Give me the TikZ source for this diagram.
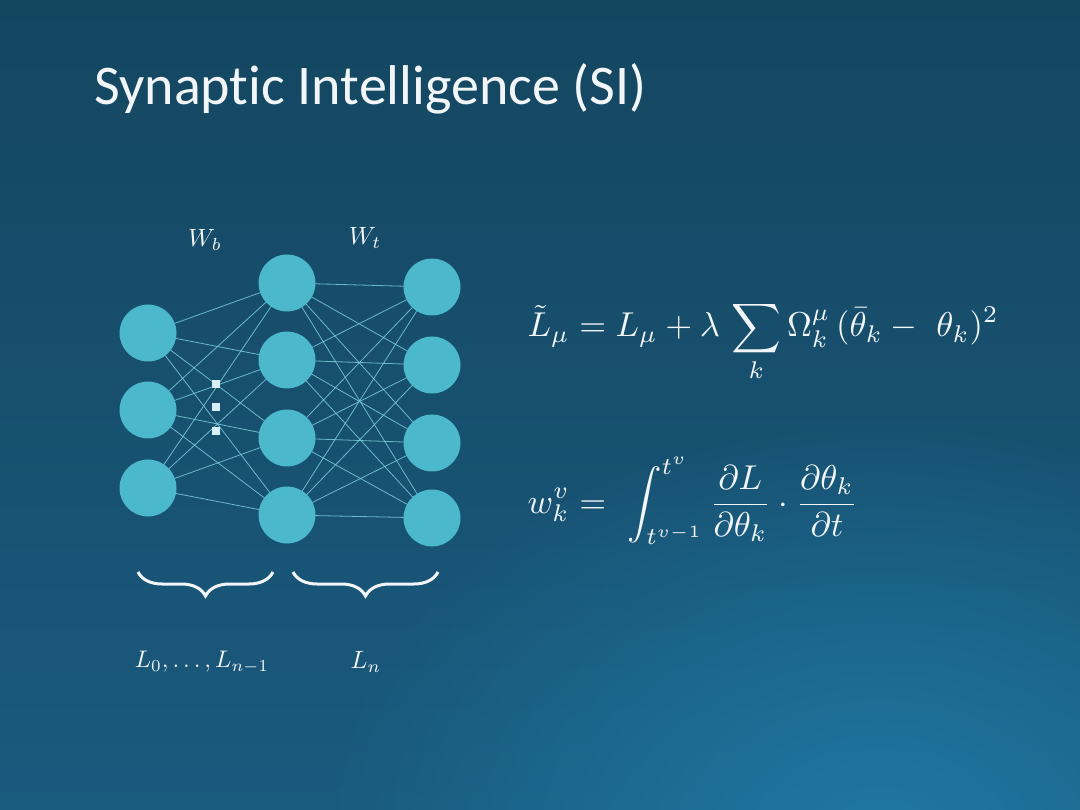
\documentclass[tikz,border=0pt]{standalone}
\usepackage{fontspec}
\usepackage{amsmath}
\newfontfamily\titlefont[Ligatures=CommonOff]{Carlito}
\usetikzlibrary{decorations.pathreplacing,fadings}
\definecolor{bgtop}{HTML}{144660}
\definecolor{bgbot}{HTML}{1A5A7E}
\definecolor{glow}{HTML}{1F78A3}
\definecolor{neuron}{HTML}{4BB8CC}
\definecolor{synapse}{HTML}{7CCBDB}
\definecolor{dotc}{HTML}{D6EEF5}
\definecolor{txt}{HTML}{F2F6F8}
\tikzfading[name=glowfade, inner color=transparent!0, outer color=transparent!100]
\tikzset{
  neuronnode/.style={circle, minimum size=57pt, inner sep=0pt, fill=neuron},
  link/.style={draw=synapse, line width=0.8pt, opacity=0.85},
  dotnode/.style={rectangle, minimum size=8pt, inner sep=0pt, fill=dotc},
  mathnode/.style={text=txt, inner sep=0pt},
  bracestyle/.style={draw=txt, line width=3pt, decorate, decoration={brace, mirror, amplitude=24pt}}
}
\begin{document}
\begin{tikzpicture}[x=1pt,y=-1pt]
\useasboundingbox (0,0) rectangle (1080,810);
\clip (0,0) rectangle (1080,810);
\shade[top color=bgtop, bottom color=bgbot] (0,0) rectangle (1080,810);
\fill[glow, path fading=glowfade] (880,840) ellipse (560 and 420);

\node[anchor=base west, text=txt, inner sep=0pt, font=\titlefont\fontsize{56}{64}\selectfont] (title) at (94,105) {Synaptic Intelligence (SI)};

% synapses first, neurons on top
\coordinate (l1) at (148,333);
\coordinate (l2) at (148,410);
\coordinate (l3) at (148,488);
\coordinate (m1) at (287,283);
\coordinate (m2) at (287,360);
\coordinate (m3) at (287,438);
\coordinate (m4) at (287,515);
\coordinate (r1) at (432,287);
\coordinate (r2) at (432,365);
\coordinate (r3) at (432,443);
\coordinate (r4) at (432,518);

\foreach \a in {l1,l2,l3}{\foreach \b in {m1,m2,m3,m4}{\draw[link] (\a) -- (\b);}}
\foreach \a in {m1,m2,m3,m4}{\foreach \b in {r1,r2,r3,r4}{\draw[link] (\a) -- (\b);}}

\foreach \n in {l1,l2,l3,m1,m2,m3,m4,r1,r2,r3,r4}{\node[neuronnode] (n\n) at (\n) {};}

\node[dotnode] (d1) at (216,384) {};
\node[dotnode] (d2) at (216,407) {};
\node[dotnode] (d3) at (216,431) {};

\node[mathnode, scale=2.5] (wb) at (205,240) {$W_b$};
\node[mathnode, scale=2.5] (wt) at (365,238) {$W_t$};

\coordinate (b1s) at (138,572);
\coordinate (b1e) at (273,572);
\coordinate (b2s) at (293,572);
\coordinate (b2e) at (438,572);
\draw[bracestyle] (b1s) -- (b1e);
\draw[bracestyle] (b2s) -- (b2e);

\node[mathnode, scale=2.4] (lab1) at (202,662) {$L_0,\ldots,L_{n-1}$};
\node[mathnode, scale=2.5] (lab2) at (366,662) {$L_n$};

\node[mathnode, scale=3.45, anchor=base west] (eq1) at (527,337) {$\displaystyle \tilde{L}_\mu = L_\mu + \lambda\,\sum_k \Omega_k^\mu\,(\bar{\theta}_k -\ \theta_k)^2$};
\node[mathnode, scale=3.45, anchor=base west] (eq2) at (527,513) {$\displaystyle w_k^v =\ \int_{t^{v-1}}^{t^v}\frac{\partial L}{\partial\theta_k}\cdot\frac{\partial\theta_k}{\partial t}$};
\end{tikzpicture}
\end{document}
